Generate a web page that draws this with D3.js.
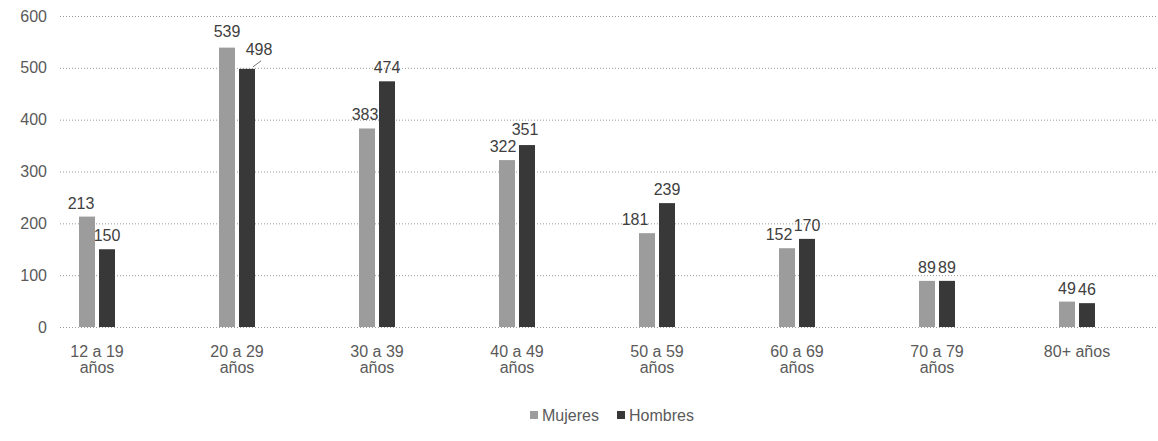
<!DOCTYPE html>
<html>
<head>
<meta charset="utf-8">
<script src="https://cdn.jsdelivr.net/npm/d3@7"></script>
<style>
  html, body { margin: 0; padding: 0; background: #fff; }
  svg { display: block; font-family: "Liberation Sans", Arial, sans-serif; }
</style>
</head>
<body>
<svg id="chart" width="1158" height="441"></svg>
<script>
// Data
const categories = [
  ["12 a 19", "años"], ["20 a 29", "años"], ["30 a 39", "años"], ["40 a 49", "años"],
  ["50 a 59", "años"], ["60 a 69", "años"], ["70 a 79", "años"], ["80+ años"]
];
const seriesNames = ["Mujeres", "Hombres"];
const mujeres = [213, 539, 383, 322, 181, 152, 89, 49];
const hombres = [150, 498, 474, 351, 239, 170, 89, 46];
const yTicks = [0, 100, 200, 300, 400, 500, 600];

// label nudges (layout only) keyed "series-index"
const nudge = {
  "0-0": [-6, 0], "0-1": [0, -3], "1-1": [12, -6], "0-2": [-2, 0],
  "0-3": [-4, 0], "1-3": [-2, -2], "0-4": [-12, 0], "0-5": [-8, 0]
};

const colors = { Mujeres: "#9c9c9c", Hombres: "#383838" };

const svg = d3.select("#chart");
const width = 1158;
const plotLeft = 60, plotRight = 1158;
const yTop = 16, yBottom = 327;

const rows = categories.map((c, i) => ({ i, label: c, values: [mujeres[i], hombres[i]] }));

const x0 = d3.scaleBand()
  .domain(d3.range(categories.length))
  .range([27, 1147])
  .padding(0);

const groupW = 36;
const x1 = d3.scaleBand()
  .domain(seriesNames)
  .range([(x0.bandwidth() - groupW) / 2, (x0.bandwidth() + groupW) / 2])
  .paddingInner(0.2);

const y = d3.scaleLinear().domain([0, 600]).range([yBottom, yTop]);

// gridlines
svg.append("g")
  .selectAll("line")
  .data(yTicks)
  .join("line")
  .attr("x1", plotLeft)
  .attr("x2", plotRight)
  .attr("y1", d => y(d) + 0.5)
  .attr("y2", d => y(d) + 0.5)
  .attr("stroke", "#9a9a9a")
  .attr("stroke-width", 1)
  .attr("stroke-dasharray", "1,2");

// y axis labels
const yAxis = svg.append("g")
  .attr("transform", `translate(47,0)`)
  .call(d3.axisLeft(y).tickValues(yTicks).tickSize(0).tickPadding(0));
yAxis.select(".domain").remove();
yAxis.selectAll("text")
  .attr("font-size", 16)
  .attr("fill", "#5a5a5a")
  .attr("font-family", "Liberation Sans, Arial, sans-serif");

// bars
const groups = svg.append("g")
  .selectAll("g")
  .data(rows)
  .join("g")
  .attr("transform", d => `translate(${x0(d.i)},0)`);

groups.selectAll("rect")
  .data(d => d.values.map((v, s) => ({ v, s, i: d.i })))
  .join("rect")
  .attr("x", d => x1(seriesNames[d.s]))
  .attr("y", d => y(d.v))
  .attr("width", x1.bandwidth())
  .attr("height", d => y(0) - y(d.v))
  .attr("fill", d => colors[seriesNames[d.s]]);

// value labels
groups.selectAll("text.val")
  .data(d => d.values.map((v, s) => ({ v, s, i: d.i })))
  .join("text")
  .attr("class", "val")
  .attr("x", d => x1(seriesNames[d.s]) + x1.bandwidth() / 2 + (nudge[d.s + "-" + d.i] || [0, 0])[0])
  .attr("y", d => y(d.v) - 8 + (nudge[d.s + "-" + d.i] || [0, 0])[1])
  .attr("text-anchor", "middle")
  .attr("font-size", 16)
  .attr("fill", "#404040")
  .text(d => d.v);

// leader line for the 498 label
const lead = rows[1];
const lx = x0(lead.i) + x1("Hombres") + x1.bandwidth() / 2;
svg.append("line")
  .attr("x1", lx + 6).attr("y1", y(lead.values[1]) - 2)
  .attr("x2", lx + 14).attr("y2", y(lead.values[1]) - 8)
  .attr("stroke", "#777")
  .attr("stroke-width", 1);

// x category labels
const xl = svg.append("g")
  .selectAll("text")
  .data(rows)
  .join("text")
  .attr("x", d => x0(d.i) + x0.bandwidth() / 2)
  .attr("y", 357)
  .attr("text-anchor", "middle")
  .attr("font-size", 16)
  .attr("fill", "#5a5a5a");
xl.selectAll("tspan")
  .data(d => d.label)
  .join("tspan")
  .attr("x", function () { return d3.select(this.parentNode).attr("x"); })
  .attr("dy", (d, k) => k === 0 ? 0 : 16)
  .text(d => d);

// legend
const legend = svg.append("g").attr("transform", "translate(530,416)");
const legendX = [0, 87];
seriesNames.forEach((name, k) => {
  const g = legend.append("g").attr("transform", `translate(${legendX[k]},0)`);
  g.append("rect")
    .attr("x", 0).attr("y", -5)
    .attr("width", 8).attr("height", 8)
    .attr("fill", colors[name]);
  g.append("text")
    .attr("x", 12).attr("y", 5)
    .attr("font-size", 16)
    .attr("fill", "#5a5a5a")
    .text(name);
});
</script>
</body>
</html>
